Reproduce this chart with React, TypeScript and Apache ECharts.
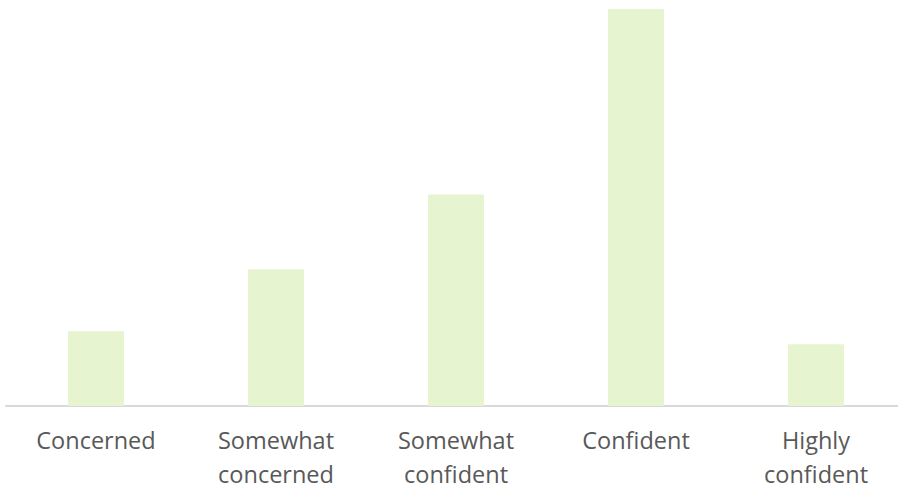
import React, { useEffect, useRef } from "react";
import * as echarts from "echarts";

const categories = ["Concerned", "Somewhat\nconcerned", "Somewhat\nconfident", "Confident", "Highly\nconfident"];
const values = [8.1, 14.8, 22.9, 43, 6.7];

export default function App() {
  const ref = useRef<HTMLDivElement>(null);
  useEffect(() => {
    document.body.style.margin = "0";
    const chart = echarts.init(ref.current!, undefined, { renderer: "svg" });
    chart.setOption({
      animation: false,
      grid: { left: 6, width: 900, top: 9, height: 397, containLabel: false, outerBoundsMode: "none" },
      xAxis: {
        type: "category",
        data: categories,
        axisLine: { show: true, lineStyle: { color: "#d9d9d9", width: 2 } },
        axisTick: { show: false },
        axisLabel: {
          interval: 0,
          color: "#595959",
          fontFamily: "Open Sans",
          fontSize: 23.5,
          lineHeight: 34,
          margin: 17,
        },
      },
      yAxis: { type: "value", min: 0, max: 43, show: false, splitLine: { show: false } },
      series: [
        {
          type: "bar",
          data: values,
          barWidth: 56,
          itemStyle: { color: "#e6f5d0" },
        },
      ],
    });
    return () => chart.dispose();
  }, []);
  return <div ref={ref} style={{ width: 898, height: 491, position: "absolute", left: 0, top: 0, overflow: "hidden" }} />;
}
